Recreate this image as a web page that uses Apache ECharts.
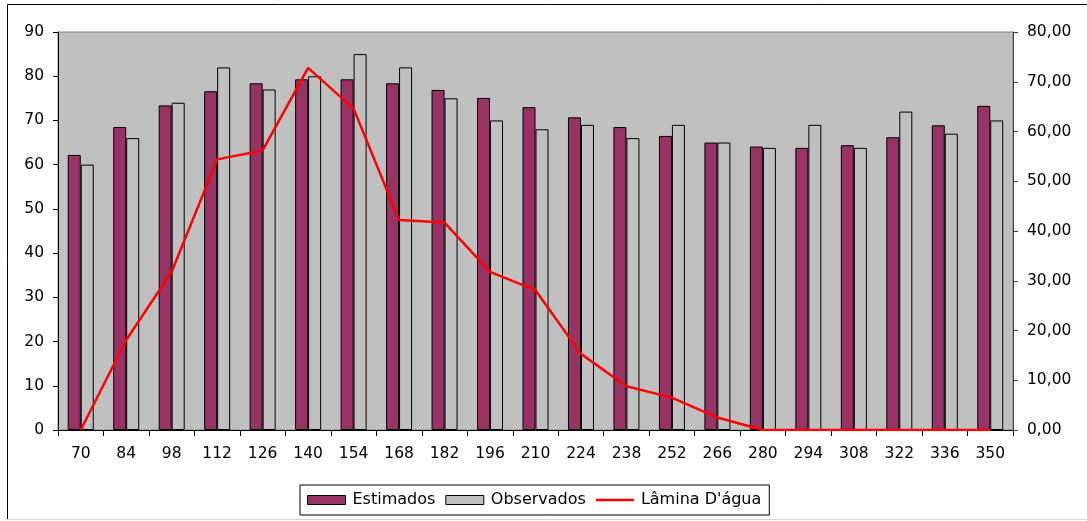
<!DOCTYPE html>
<html>
<head>
<meta charset="utf-8">
<script src="https://cdn.jsdelivr.net/npm/echarts@6/dist/echarts.min.js"></script>
<style>
  html, body { margin: 0; padding: 0; background: #fff; }
  #chart { width: 1087px; height: 521px; }
</style>
</head>
<body>
<div id="chart"></div>
<script>
// Days after planting
const categories = ['70','84','98','112','126','140','154','168','182','196','210','224','238','252','266','280','294','308','322','336','350'];
// Estimated values (left axis)
const estimados = [62.2, 68.5, 73.4, 76.6, 78.4, 79.3, 79.3, 78.4, 76.9, 75.1, 73.0, 70.7, 68.5, 66.5, 65.0, 64.1, 63.8, 64.4, 66.2, 68.9, 73.3];
// Observed values (left axis)
const observados = [60, 66, 74, 82, 77, 80, 85, 82, 75, 70, 68, 69, 66, 69, 65, 63.8, 69, 63.8, 72, 67, 70];
// Water depth (right axis)
const laminaAgua = [0, 18.1, 31.8, 54.4, 56.2, 72.8, 64.6, 42.2, 41.7, 31.8, 28.1, 15.3, 8.8, 6.5, 2.5, 0, 0, 0, 0, 0, 0];

const leftTicks = { min: 0, max: 90, interval: 10 };
const rightTicks = { min: 0, max: 80, interval: 10 };

const font = 'DejaVu Sans';
const chart = echarts.init(document.getElementById('chart'), null, { renderer: 'canvas' });

chart.setOption({
  animation: false,
  backgroundColor: '#ffffff',
  textStyle: { fontFamily: font },
  graphic: [
    { type: 'line', shape: { x1: 7.5, y1: 4.5, x2: 1087, y2: 4.5 }, style: { stroke: '#000', lineWidth: 1 } },
    { type: 'line', shape: { x1: 7.5, y1: 4.5, x2: 7.5, y2: 519 }, style: { stroke: '#000', lineWidth: 1 } },
    { type: 'line', shape: { x1: 7.5, y1: 519.5, x2: 1087, y2: 519.5 }, style: { stroke: '#d4d4d4', lineWidth: 1 } }
  ],
  grid: {
    left: 58, right: 74, top: 32, bottom: 91,
    show: true, backgroundColor: '#c0c0c0', borderColor: '#808080', borderWidth: 1
  },
  legend: {
    left: 300, top: 485,
    padding: [7, 8, 7, 7],
    borderColor: '#000', borderWidth: 1,
    itemWidth: 38, itemHeight: 9, itemGap: 10,
    symbolKeepAspect: true,
    textStyle: { fontFamily: font, fontSize: 16, color: '#000', padding: [0, 0, 0, 2] },
    data: [
      { name: 'Estimados', icon: 'rect', itemStyle: { color: '#993366', borderColor: '#000', borderWidth: 1 } },
      { name: 'Observados', icon: 'rect', itemStyle: { color: '#c0c0c0', borderColor: '#000', borderWidth: 1 } },
      {
        name: "Lâmina D'água", icon: 'path://M0,0H40V2.5H0Z',
        itemStyle: { color: '#ff0000', borderWidth: 0 }
      }
    ]
  },
  xAxis: {
    type: 'category',
    data: categories,
    boundaryGap: true,
    axisLine: { lineStyle: { color: '#000', width: 1 } },
    axisTick: { show: true, length: 6, lineStyle: { color: '#000' } },
    axisLabel: { color: '#000', fontSize: 15.5, margin: 16, fontFamily: font, interval: 0 },
    splitLine: { show: false }
  },
  yAxis: [
    {
      type: 'value', position: 'left',
      min: leftTicks.min, max: leftTicks.max, interval: leftTicks.interval,
      axisLine: { show: true, lineStyle: { color: '#000', width: 1 } },
      axisTick: { show: true, length: 5, lineStyle: { color: '#000' } },
      axisLabel: { color: '#000', fontSize: 15.5, margin: 14, fontFamily: font },
      splitLine: { show: false }
    },
    {
      type: 'value', position: 'right',
      min: rightTicks.min, max: rightTicks.max, interval: rightTicks.interval,
      axisLine: { show: true, lineStyle: { color: '#404040', width: 1 } },
      axisTick: { show: true, length: 5, lineStyle: { color: '#404040' } },
      axisLabel: {
        color: '#000', fontSize: 15.5, margin: 14, fontFamily: font,
        formatter: v => v.toFixed(2).replace('.', ',')
      },
      splitLine: { show: false }
    }
  ],
  series: [
    {
      name: 'Estimados', type: 'bar', data: estimados, yAxisIndex: 0,
      barWidth: 13, barGap: '0%',
      itemStyle: { color: '#993366', borderColor: '#000', borderWidth: 1 }
    },
    {
      name: 'Observados', type: 'bar', data: observados, yAxisIndex: 0,
      barWidth: 13, barGap: '0%',
      itemStyle: { color: '#c0c0c0', borderColor: '#000', borderWidth: 1 }
    },
    {
      name: "Lâmina D'água", type: 'line', data: laminaAgua, yAxisIndex: 1,
      symbol: 'none', z: 5,
      lineStyle: { color: '#ff0000', width: 2.5 },
      itemStyle: { color: '#ff0000' }
    }
  ]
});
</script>
</body>
</html>
